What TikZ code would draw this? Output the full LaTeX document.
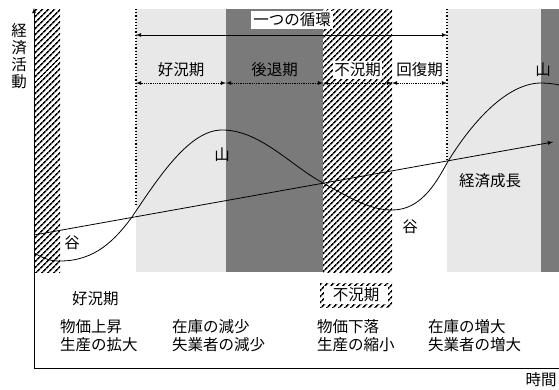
\documentclass[tikz,border=0pt]{standalone}
\usepackage{fontspec}
\setmainfont{Noto Sans CJK JP}
\usetikzlibrary{patterns.meta}

\begin{document}
\begin{tikzpicture}[x=1pt,y=-1pt,>=latex,
  every node/.style={font=\fontsize{15.5}{17}\selectfont,inner sep=0pt},
  hatch/.style={pattern={Lines[angle=45,distance=4pt,line width=1.7pt]}},
  stipple/.style={fill=black!9},
  recess/.style={fill=black!52},
  phase/.style={<->,thick,densely dotted},
  txt/.style={anchor=west}]
   \useasboundingbox (0,0) rectangle (559,389);
   % bands
   \fill[hatch] (34,9) rectangle (60,272);
   \fill[stipple] (136,9) rectangle (226,272);
   \fill[recess] (226,9) rectangle (323,272);
   \fill[hatch] (323,9) rectangle (392,272);
   \fill[stipple] (447,9) rectangle (541,272);
   \fill[recess] (541,9) rectangle (559,272);
   \draw[very thick,dotted] (136,9) -- (136,207);
   \draw[very thick,dotted] (447,9) -- (447,160);
   % axes
   \coordinate (o) at (34,368);
   \coordinate (ytop) at (34,8);
   \coordinate (xend) at (559,368);
   \draw[->,thick] (o) -- (ytop);
   \draw[thick] (o) -- (xend);
   \node (ylab) at (19,56) [align=center] {経\\済\\活\\動};
   \node (tlab) at (541,380) {時間};
   % cycle
   \coordinate (c0) at (136,35);
   \coordinate (c1) at (447,35);
   \draw[<->,thick] (c0) -- (c1);
   \node (cyc) at (292,20) [fill=white,inner sep=2pt] {一つの循環};
   % phases
   \coordinate (p0) at (136,83);
   \coordinate (p1) at (226,83);
   \coordinate (p2) at (323,83);
   \coordinate (p3) at (392,83);
   \coordinate (p4) at (447,83);
   \draw[phase] (p0) -- (p1);
   \draw[phase] (p1) -- (p2);
   \draw[phase] (p2) -- (p3);
   \draw[phase] (p3) -- (p4);
   \node (boom) at (181,70) {好況期};
   \node (down) at (274.5,70) {後退期};
   \node (slump) at (357.5,70) [fill=white,inner sep=1.5pt] {不況期};
   \node (recov) at (419.5,70) {回復期};
   % business curve
   \draw[thick] (34,253) .. controls (45,259) and (50,261) .. (60,261)
     .. controls (95,261) and (115,240) .. (132,217)
     .. controls (160,175) and (190,130) .. (222,130)
     .. controls (260,130) and (290,165) .. (323,183)
     .. controls (350,198) and (370,210) .. (392,210)
     .. controls (420,210) and (435,185) .. (447,163)
     .. controls (470,125) and (505,84) .. (540,83)
     .. controls (548,83) and (555,84) .. (559,85);
   % growth trend
   \coordinate (g0) at (34,235);
   \coordinate (g1) at (553,142);
   \draw[->,thick] (g0) -- (g1);
   \node (grow) at (490,181) {経済成長};
   \node (peak1) at (222,155) {山};
   \node (peak2) at (543,70) {山};
   \node (trough1) at (72,243) {谷};
   \node (trough2) at (410,227) {谷};
   % notes
   \node (nb) at (72,299) [txt] {好況期};
   \node (nb1) at (60,327) [txt] {物価上昇};
   \node (nb2) at (60,345) [txt] {生産の拡大};
   \node (nb3) at (172,327) [txt] {在庫の減少};
   \node (nb4) at (172,345) [txt] {失業者の減少};
   \fill[hatch] (320,283) rectangle (392,307);
   \node (ns) at (356,295) [fill=white,minimum width=64pt,minimum height=18pt] {不況期};
   \node (ns1) at (317,327) [txt] {物価下落};
   \node (ns2) at (317,345) [txt] {生産の縮小};
   \node (ns3) at (428,327) [txt] {在庫の増大};
   \node (ns4) at (428,345) [txt] {失業者の増大};
\end{tikzpicture}
\end{document}
